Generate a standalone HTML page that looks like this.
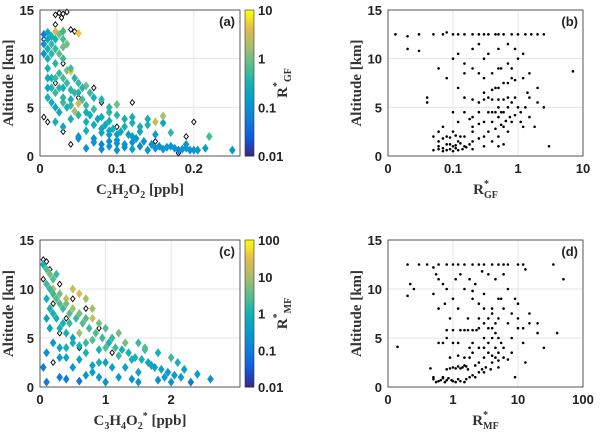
<!DOCTYPE html>
<html><head><meta charset="utf-8"><style>
body{margin:0;background:#fff;width:600px;height:445px;overflow:hidden}
svg{display:block}
.t{font-family:"Liberation Sans",sans-serif;font-weight:bold;font-size:13px;fill:#222}
.s{font-family:"Liberation Serif",serif;font-weight:bold;font-size:15px;fill:#333}
</style></head><body>
<svg id="c" width="600" height="445" xmlns="http://www.w3.org/2000/svg"></svg>
<script>
const aPts=[[0.06,0.8,0.1],[0.08,0.7,0.08],[0.1,0.6,0.1],[0.12,0.7,0.15],[0.14,0.6,0.1],[0.16,0.7,0.12],[0.18,0.6,0.08],[0.19,0.8,0.15],[0.2,0.6,0.1],[0.25,0.6,0.12],[0.09,1.0,0.1],[0.11,0.9,0.1],[0.13,1.0,0.08],[0.15,0.8,0.1],[0.17,1.0,0.12],
[0.05,2,0.12],[0.07,1.8,0.1],[0.09,2.2,0.12],[0.1,1.6,0.1],[0.12,2.0,0.15],[0.13,2.5,0.2],[0.15,2.2,0.15],[0.17,2.4,0.5],[0.19,1.2,0.12],[0.22,2,0.6],[0.06,2.6,0.3],[0.08,2.8,0.2],[0.11,3,0.3],[0.14,3.2,0.3],[0.16,3.4,0.2],
[0.03,3,0.2],[0.04,3.8,0.3],[0.05,4.2,0.4],[0.06,4.5,0.3],[0.07,4.8,0.5],[0.08,4,0.3],[0.09,3.6,0.3],[0.1,4.2,0.4],[0.12,4,0.3],[0.14,3.8,0.3],[0.16,4.1,2],[0.15,3.5,3],[0.02,5,0.2],[0.03,5.5,0.5],[0.04,5.8,0.3],[0.05,5.4,3],[0.06,5.2,0.5],[0.07,6,0.3],[0.09,5,0.4],[0.1,5.3,1],[0.045,4.6,2],
[0.01,6,0.3],[0.02,6.5,0.5],[0.03,7,0.3],[0.04,6.8,0.4],[0.05,7.5,0.5],[0.06,7.2,1],[0.015,8,0.3],[0.025,8.5,0.5],[0.035,8.8,1],[0.04,8.7,5],[0.02,9.5,0.4],[0.03,10,0.5],[0.01,9,0.3],[0.045,8,0.4],
[0.005,10.5,0.1],[0.01,11,0.3],[0.015,11.5,0.5],[0.02,12,0.3],[0.025,12.5,1],[0.03,11.2,1],[0.005,12.5,0.05],[0.01,12.7,0.2],[0.02,12.8,3],[0.03,12.9,8],[0.05,12.6,5],[0.01,12,0.2],[0.03,12.8,0.5],
[0.02,3.5,0.3],[0.025,4.5,0.2],[0.03,6,0.4],[0.035,5,0.3],[0.04,5.2,0.5],[0.05,6.5,0.4],[0.055,5.8,0.6],[0.065,4.2,0.3],[0.075,3.8,0.2],[0.085,3.2,0.2],[0.095,2.8,0.3],[0.105,2.5,0.2],[0.115,2.2,0.15],[0.125,1.8,0.12],[0.135,1.5,0.1],[0.145,1.2,0.1],[0.155,1.0,0.1],[0.165,0.9,0.1],[0.175,0.8,0.1],[0.185,0.7,0.1],[0.195,0.6,0.1],[0.205,0.6,0.12],[0.215,0.8,0.15],[0.07,1.4,0.1],[0.08,1.2,0.08],[0.09,1.5,0.1],[0.1,1.3,0.1],[0.11,1.2,0.1],[0.12,1.4,0.1],[0.06,3.5,0.3],[0.07,3.2,0.25],[0.08,2.4,0.2],[0.09,2.6,0.2],[0.015,5.5,0.3],[0.015,7,0.4],[0.02,8,0.5],[0.025,7,0.4],[0.03,8,0.6],[0.035,7.5,0.5],[0.04,9,0.6],[0.01,10,0.3],[0.015,10.5,0.4],[0.02,11,0.5],[0.025,10.5,0.8],[0.03,12,0.6],[0.035,11.5,1],[0.015,12.3,0.3],[0.01,8,0.2],[0.01,7,0.2],[0.005,11.5,0.1],[0.045,6.5,0.5],[0.055,7,0.4],[0.065,6.5,0.5],[0.08,5.8,0.4],[0.09,4.5,0.4],[0.11,3.8,0.3],[0.12,3.4,0.3],[0.13,3.0,0.25],[0.1,2.2,0.15],[0.05,1.8,0.1]];
const aOpen=[[0.02,14.5],[0.025,14.7],[0.03,14.6],[0.035,14.8],[0.028,14.2],[0.02,13.5],[0.04,13],[0.045,12.8],[0.005,12],[0.01,11],[0.03,9.5],[0.02,7.5],[0.05,6],[0.07,7],[0.08,5.5],[0.12,5.5],[0.2,3.5],[0.19,2],[0.18,0.3],[0.15,1.5],[0.04,1.2],[0.03,2.5],[0.01,3.5],[0.005,4],[0.1,3]];
const cPts=[[0.05,12.5,1],[0.1,12,3],[0.15,11.5,5],[0.1,10.5,2],[0.2,10,10],[0.3,9.5,5],[0.25,9,3],[0.4,9,20],[0.35,8,2],[0.5,8,10],[0.6,7.5,5],[0.2,7.5,1],[0.7,7,3],[0.8,7,20],[0.45,6.5,2],[0.9,6.5,5],[1.0,6,3],[0.3,6,1],[0.6,5.5,10],[1.2,5.5,5],[1.1,5,2],[0.5,5,0.5],[0.8,4.8,3],[1.3,4.5,5],[1.5,4.5,2],[0.2,4.5,0.3],[0.4,4,1],[1.0,4,3],[1.6,3.8,2],[1.8,3.5,1],[0.7,3.5,1],[1.2,3.2,2],[2.0,3,2],[0.3,3,0.3],[1.4,2.8,1],[0.9,2.5,1],[2.1,2.5,1],[1.7,2.2,0.5],[0.5,2,0.3],[1.1,2,0.5],[2.2,1.8,0.5],[1.5,1.5,0.5],[0.8,1.5,0.3],[2.4,1.3,0.3],[0.3,1,0.1],[1.2,1,0.3],[1.9,1,0.3],[2.6,0.8,0.2],[0.6,0.6,0.1],[1.0,0.5,0.2],[1.5,0.5,0.2],[2.0,0.5,0.2],[2.3,0.5,0.1],[0.1,0.5,0.1],
[0.15,10,2],[0.2,11,3],[0.25,11.5,2],[0.1,9,1],[0.2,9.5,2],[0.3,8.5,3],[0.4,8.5,5],[0.45,7.5,3],[0.55,7,2],[0.65,6.5,3],[0.75,6,2],[0.85,5.5,3],[0.95,5,2],[1.05,4.5,1],[1.15,4,2],[1.25,3.8,1],[1.35,3.5,1],[1.45,3,1],[1.55,2.8,1],[1.65,2.5,0.5],[1.75,2,0.5],[1.85,1.8,0.5],[1.95,1.5,0.3],[2.05,1.2,0.3],[2.15,1,0.3],[0.15,8,1],[0.25,7,1],[0.35,6.5,1],[0.4,5.5,1],[0.5,4.5,1],[0.6,4.2,1],[0.7,4.5,2],[0.9,3.8,1],[0.3,4,0.5],[0.4,3,0.5],[0.6,2.8,0.5],[0.8,2.2,0.5],[1,2.5,0.5],[1.3,2,0.5],[0.7,1.2,0.3],[0.9,1,0.3],[1.4,0.8,0.2],[1.8,0.7,0.2],[0.4,0.8,0.1],[0.1,7,0.5],[0.15,6,0.5],[0.1,3.5,0.2],[0.05,2,0.1],[1.6,4,3],[0.5,10,20],[0.6,9.5,30],[0.7,9,10],[0.8,8,10]];
const cOpen=[[0.05,13],[0.1,12.8],[0.15,12],[0.05,11],[0.3,10.5],[0.5,9],[0.2,8.5],[0.7,8],[0.4,7],[0.9,6],[0.3,5.5],[0.6,4],[1.1,3.5],[0.2,2.5]];
const bPts=[[0.013,12.5],[0.05,12.5],[0.07,12.5],[0.1,12.5],[0.12,12.5],[0.15,12.5],[0.2,12.5],[0.25,12.5],[0.3,12.5],[0.35,12.5],[0.45,12.5],[0.5,12.5],[0.6,12.5],[0.8,12.5],[1,12.5],[1.3,12.5],[1.6,12.5],[2,12.5],
[0.02,11],[0.03,10.8],[0.04,6],[0.06,9],[0.08,8],[0.1,10],[0.12,7],[0.15,9.5],[0.2,11],[0.3,10],[0.5,9],[0.8,8],[1,10],[2,7],[7,8.7],[0.15,6],[0.25,5.5],[0.35,6],[0.5,5],[0.7,6],[1,5],[1.5,4],[0.1,4.5],[0.2,4],[0.3,3.5],[0.4,4.5],[0.6,3],[0.8,3.5],[1.2,3],[0.07,3],[0.1,2.5],[0.15,2],[0.2,2.5],[0.3,2],[0.5,2],[0.7,2.5],[0.06,1.5],[0.08,1.2],[0.1,1],[0.12,1.5],[0.15,1],[0.2,1.5],[0.3,1],[0.05,0.6],[0.06,0.7],[0.07,0.5],[0.08,0.6],[0.09,0.7],[0.1,0.5],[0.12,0.6],[0.2,0.7],[0.4,1.5],[1.5,6],[2.5,5],[0.45,7],[0.6,7.5],[0.25,8.5],[0.9,11],[3,1],
[0.04,5.5],[0.05,2],[0.06,2.5],[0.07,1.8],[0.08,2],[0.09,1.9],[0.11,2.1],[0.13,2],[0.09,1.2],[0.11,1.1],[0.13,1.3],[0.06,1],[0.07,0.8],[0.11,0.8],[0.14,0.7],[0.16,0.9],[0.18,1.2],[0.25,1.8],[0.35,2.5],[0.45,2.8],[0.55,3.2],[0.65,3.6],[0.75,4],[0.9,4.2],[1.1,4.5],[1.3,5],[0.4,3.5],[0.5,4],[0.6,4.5],[0.7,5],[0.8,5.5],[0.9,6],[0.3,5.8],[0.4,5.8],[0.5,5.8],[0.6,5.8],[0.2,5.8],[0.15,4.5],[0.25,4.5],[0.35,4.5],[0.45,4.5],[0.55,4.5],[0.3,6.5],[0.4,6.8],[0.5,7],[0.7,7.5],[0.9,7.8],[1.2,8],[0.3,8],[0.4,8.5],[0.55,9],[0.7,9.5],[0.35,10.5],[0.5,11],[0.7,11.5],[1.2,10.5],[0.15,8.5],[0.2,9],[0.12,10.5],[0.25,11.5],[0.8,9],[1.5,8.5],[0.2,3],[0.25,3.3],[0.12,3.5],[0.18,3.8],[1.1,3.5],[1.4,6.5],[2,5.5],[1.8,3],[0.6,1.2],[0.5,1],[0.02,12.3],[0.03,12.5],[2.5,12.5],[0.08,12.7]];
const dPts=[[0.2,12.5],[0.3,12.5],[0.4,12.5],[0.6,12.5],[0.8,12.5],[1,12.5],[1.2,12.5],[1.5,12.5],[2,12.5],[2.5,12.5],[3,12.5],[4,12.5],[5,12.5],[6,12.5],[7,12.5],[10,12.5],[12,12.5],[35,12.5],
[0.14,4.1],[0.2,9.3],[0.22,10.5],[0.25,10],[0.5,9.5],[0.6,8],[0.8,5],[0.9,7],[1,9],[1.2,8],[1.5,10],[2,9.8],[2.5,7],[3,8],[4,7.5],[5,9],[7,10],[10,8.5],[15,7.5],[20,6.5],[40,5.5],[50,11],[25,4],[0.6,4.5],[0.8,5.8],[1,5.8],[1.3,5.8],[1.7,5.8],[2,4.5],[3,5],[3.5,4.5],[4,5],[4.5,4],[5,3.5],[6,4],[8,5],[10,6],[0.9,3],[1.2,3.2],[1.8,3],[2.5,2.5],[3,3],[4,2.5],[5,2],[7,2.8],[1,2],[1.2,2.1],[1.4,2],[1.6,2.1],[0.8,1.8],[2,1.2],[3,1.5],[0.5,0.8],[0.6,0.6],[0.7,0.9],[0.8,0.7],[1,0.6],[1.2,0.8],[1.5,0.5],[9,1],[13,2.5],[0.45,1.9],
[0.5,12.2],[0.55,11.5],[0.6,11],[0.7,10.5],[0.8,10],[1.1,11],[1.3,11.5],[1.8,11],[2.2,10.5],[2.8,11.8],[3.5,11.5],[4.5,11],[6,11.5],[13,12],[2,9],[2.5,8.5],[3,9.5],[3.5,7],[4,8],[4.5,6.5],[5,7],[6,8],[7,6.5],[8,7.5],[9,9],[12,6],[15,6.5],[20,5.5],[2.5,6],[3,6.5],[3.5,6],[4,6],[4.5,5.5],[5,5],[5.5,4.5],[6,3],[2,3.5],[2.5,4],[3,4],[3.5,3.5],[4,3.2],[4.5,3],[5,2.7],[2.2,2.2],[2.8,1.8],[3.2,2],[3.8,1.8],[1.3,1.9],[1.5,2.2],[1.7,1.8],[1.1,1.9],[0.9,1.9],[1.8,1],[2.2,1],[2.5,1.5],[0.55,0.5],[0.65,0.7],[0.75,0.5],[0.85,0.9],[0.95,0.7],[1.1,0.5],[1.3,0.6],[1.6,0.8],[0.5,1],[0.7,1],[1.5,3],[1.8,4],[1.2,4.5],[1,4.5],[0.7,4.5],[1.5,5.8],[2,5.8],[2.3,5.8],[0.75,8.5],[1.7,7],[5.5,9],[10,7],[12,4.5],[8,3.5]];
const yTicks=[0,5,10,15];
const aXTicks=[0,0.1,0.2];
const cXTicks=[0,1,2];
const bXTicks=[0.01,0.1,1,10];
const bXLabels=["0","0.1","1","10"];
const dXTicks=[0.1,1,10,100];
const dXLabels=["0","1","10","100"];
const aCbTicks=[0.01,0.1,1,10];
const cCbTicks=[0.01,0.1,1,10,100];

const S=document.getElementById('c'),NS='http://www.w3.org/2000/svg';
function mk(tag,at,name,parent){const e=document.createElementNS(NS,tag);for(const k in at)e.setAttribute(k,at[k]);


(parent||S).appendChild(e);return e;}
const stops=[[53,42,135],[15,92,221],[18,125,216],[7,156,207],[21,177,180],[89,189,140],[165,190,107],[225,185,82],[249,251,14]];
function parula(t){t=Math.max(0,Math.min(1,t))*8;const i=Math.min(7,Math.floor(t)),f=t-i,a=stops[i],b=stops[i+1];
return 'rgb('+a.map((v,k)=>Math.round(v+(b[k]-v)*f)).join(',')+')';}
function panel(o){
 const {x0,x1,y0,y1}=o;
 const sx=o.log?v=>x0+(Math.log10(v)-Math.log10(o.xmin))/(Math.log10(o.xmax)-Math.log10(o.xmin))*(x1-x0):v=>x0+(v-o.xmin)/(o.xmax-o.xmin)*(x1-x0);
 const sy=v=>y1-v/15*(y1-y0);
 const g=mk('g',{},o.name+'-panel');
 mk('rect',{x:x0,y:y0,width:x1-x0,height:y1-y0,fill:'#fff'},o.name+'-plot-area',g);
 o.xt.forEach((v,i)=>{mk('line',{x1:sx(v),x2:sx(v),y1:y0,y2:y1,stroke:'#e4e4e4'},'x-gridline',g);
  const t=mk('text',{x:sx(v),y:y1+17,'text-anchor':'middle',class:'t'},'x-tick-label',g);t.textContent=o.xl?o.xl[i]:String(v);});
 yTicks.forEach(v=>{mk('line',{x1:x0,x2:x1,y1:sy(v),y2:sy(v),stroke:'#e4e4e4'},'y-gridline',g);
  const t=mk('text',{x:x0-6,y:sy(v)+5,'text-anchor':'end',class:'t'},'y-tick-label',g);t.textContent=v;});
 o.draw(g,sx,sy);
 mk('rect',{x:x0,y:y0,width:x1-x0,height:y1-y0,fill:'none',stroke:'#333','stroke-width':0.8},o.name+'-frame',g);
 const L=mk('text',{x:x1-5,y:y0+16,'text-anchor':'end',class:'t','font-size':'13'},o.name+'-panel-label',g);L.textContent='('+o.name+')';
 const yt=mk('text',{transform:`translate(${x0-27},${(y0+y1)/2}) rotate(-90)`,'text-anchor':'middle',class:'s'},'y-axis-title',g);yt.textContent='Altitude [km]';
 const xt=mk('text',{x:(x0+x1)/2,y:y1+38,'text-anchor':'middle',class:'s'},'x-axis-title',g);xt.innerHTML=o.xtitle;
}
function diamond(g,x,y,fill,name){mk('path',{d:`M${x},${y-4.5}L${x+3.3},${y}L${x},${y+4.5}L${x-3.3},${y}Z`,fill:fill},name,g);}
function openD(g,x,y,name){mk('path',{d:`M${x},${y-2.8}L${x+2.2},${y}L${x},${y+2.8}L${x-2.2},${y}Z`,fill:'#fff',stroke:'#000','stroke-width':0.9},name,g);}
function colorbar(x,y0,y1,ticks,name,title){
 const g=mk('g',{},name);
 const n=60,lo=Math.log10(ticks[0]),hi=Math.log10(ticks[ticks.length-1]);
 for(let i=0;i<n;i++)mk('rect',{x:x,y:y1-(i+1)*(y1-y0)/n,width:9,height:(y1-y0)/n+0.5,fill:parula(i/(n-1))},'colorbar-segment',g);
 mk('rect',{x:x,y:y0,width:9,height:y1-y0,fill:'none',stroke:'#333','stroke-width':0.6},'colorbar-frame',g);
 ticks.forEach(v=>{const yy=y1-(Math.log10(v)-lo)/(hi-lo)*(y1-y0);const t=mk('text',{x:x+13,y:yy+5,class:'t'},'colorbar-tick-label',g);t.textContent=v;});
 const tt=mk('text',{transform:`translate(${x+42},${(y0+y1)/2}) rotate(-90)`,'text-anchor':'middle',class:'s'},'colorbar-title',g);tt.innerHTML=title;
 return (r)=>parula((Math.log10(r)-lo)/(hi-lo));
}
const ca=colorbar(245,10,156,aCbTicks,'colorbar-a','R<tspan dy="-7" font-size="10">*</tspan><tspan dy="11" font-size="10">GF</tspan>');
const cc=colorbar(245,240,387,cCbTicks,'colorbar-c','R<tspan dy="-7" font-size="10">*</tspan><tspan dy="11" font-size="10">MF</tspan>');
panel({name:'a',x0:40,x1:240,y0:10,y1:156,xmin:0,xmax:0.26,xt:aXTicks,
 xtitle:'C<tspan dy="4" font-size="10">2</tspan><tspan dy="-4">H</tspan><tspan dy="4" font-size="10">2</tspan><tspan dy="-4">O</tspan><tspan dy="4" font-size="10">2</tspan><tspan dy="-4"> [ppb]</tspan>',
 draw:(g,sx,sy)=>{aOpen.forEach(p=>openD(g,sx(p[0]),sy(p[1]),'open-marker'));aPts.forEach(p=>diamond(g,sx(p[0]),sy(p[1]),ca(p[2]),'scatter-marker'));}});
panel({name:'c',x0:40,x1:240,y0:240,y1:387,xmin:0,xmax:3.05,xt:cXTicks,
 xtitle:'C<tspan dy="4" font-size="10">3</tspan><tspan dy="-4">H</tspan><tspan dy="4" font-size="10">4</tspan><tspan dy="-4">O</tspan><tspan dy="4" font-size="10">2</tspan><tspan dy="-10" font-size="10">*</tspan><tspan dy="6"> [ppb]</tspan>',
 draw:(g,sx,sy)=>{cOpen.forEach(p=>openD(g,sx(p[0]),sy(p[1]),'open-marker'));cPts.forEach(p=>diamond(g,sx(p[0]),sy(p[1]),cc(p[2]),'scatter-marker'));}});
panel({name:'b',x0:388,x1:583,y0:10,y1:156,log:1,xmin:0.01,xmax:10,xt:bXTicks,xl:bXLabels,
 xtitle:'R<tspan dy="-7" font-size="10">*</tspan><tspan dy="11" dx="-5" font-size="10">GF</tspan>',
 draw:(g,sx,sy)=>bPts.forEach(p=>mk('circle',{cx:sx(p[0]),cy:sy(p[1]),r:1.3,fill:'#000'},'dot',g))});
panel({name:'d',x0:388,x1:583,y0:240,y1:387,log:1,xmin:0.1,xmax:100,xt:dXTicks,xl:dXLabels,
 xtitle:'R<tspan dy="-7" font-size="10">*</tspan><tspan dy="11" dx="-5" font-size="10">MF</tspan>',
 draw:(g,sx,sy)=>dPts.forEach(p=>mk('circle',{cx:sx(p[0]),cy:sy(p[1]),r:1.3,fill:'#000'},'dot',g))});
</script>
</body></html>
